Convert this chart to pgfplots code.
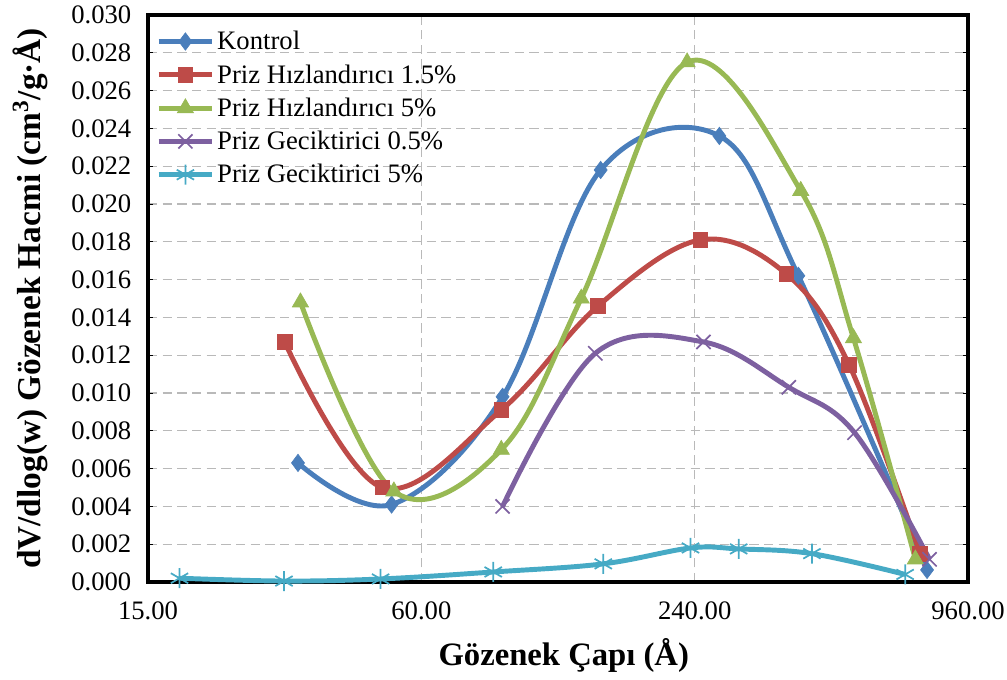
\documentclass[border=0pt]{standalone}
\usepackage{pgfplots}
\pgfplotsset{compat=1.18}
\usepackage{fontspec}
\setmainfont{Liberation Serif}
\definecolor{cBlue}{HTML}{4A7EBB}
\definecolor{cRed}{HTML}{BE4B48}
\definecolor{cGreen}{HTML}{98B954}
\definecolor{cPurple}{HTML}{7D60A0}
\definecolor{cCyan}{HTML}{46AAC5}
\begin{document}
\begin{tikzpicture}
\begin{axis}[
  name=ax,
  scale only axis,
  width=615pt, height=425.25pt,
  xmode=log,
  xmin=15, xmax=960,
  ymin=0, ymax=0.030,
  xtick={15,60,240,960},
  xticklabels={15.00,60.00,240.00,960.00},
  ytick={0,0.002,...,0.0305},
  yticklabel style={xshift=-9pt, /pgf/number format/.cd,fixed,fixed zerofill,precision=3,assume math mode=true},
  scaled y ticks=false,
  tick label style={font=\fontsize{20}{22}\selectfont},
  xticklabel style={yshift=-11pt},
  xtick style={draw=none},
  ytick style={black, line width=0.6pt},
  ytick pos=both,
  tick align=inside,
  major tick length=4pt,
  minor x tick num=0,
  log ticks with fixed point,
  grid=major,
  major grid style={gray!55, line width=1pt, dash pattern=on 7pt off 4pt},
  axis line style={line width=2.5pt},
  clip=false,
  xlabel={Gözenek Çapı (Å)},
  ylabel={dV/dlog(w) Gözenek Hacmi (cm\textsuperscript{3}/g·Å)},
  xlabel style={font=\fontsize{24.5}{28}\selectfont\bfseries, at={(axis description cs:0.507,-0.129)}, anchor=center},
  ylabel style={font=\fontsize{25}{28}\selectfont\bfseries, at={(axis description cs:-0.144,0.5)}, anchor=center, rotate=0},
  legend style={at={(axis description cs:0.0,1.0)}, anchor=north west, draw=none, fill=none,
    font=\fontsize{20}{22}\selectfont, row sep=5.6pt, xshift=3pt, yshift=-8pt},
  legend cell align=left,
  legend image code/.code={\draw[mark repeat=2,mark phase=2,#1] plot coordinates {(0pt,0pt) (20pt,0pt) (40pt,0pt)};},
  every axis plot/.append style={line width=3.7pt, smooth, tension=0.6},
]
\addplot[color=cBlue, mark=diamond*, mark size=6.5pt, mark options={solid, line width=0.5pt, fill=cBlue}] coordinates {
(32.1,0.0063) (51.6,0.0041) (90.6,0.0098) (149,0.0218) (272,0.0236) (406,0.0162) (780,0.00064)};
\addlegendentry{Kontrol}
\addplot[color=cRed, mark=square*, mark size=5.5pt, mark options={solid, line width=0.5pt, fill=cRed}] coordinates {
(30.0,0.0127) (49.2,0.0050) (90,0.0091) (147,0.0146) (247,0.0181) (382,0.0163) (525,0.0115) (753,0.0015)};
\addlegendentry{Priz Hızlandırıcı 1.5\%}
\addplot[color=cGreen, mark=triangle*, mark size=7pt, mark options={solid, line width=0.5pt, fill=cGreen}] coordinates {
(32.5,0.0148) (52.2,0.0048) (90,0.0070) (135,0.0150) (231,0.0275) (411,0.0207) (537,0.0129) (735,0.0012)};
\addlegendentry{Priz Hızlandırıcı 5\%}
\addplot[color=cPurple, mark=x, mark size=7.5pt, mark options={solid, line width=1.3pt}] coordinates {
(90.6,0.0040) (145,0.0121) (251,0.0127) (387,0.0103) (540,0.0079) (790,0.0012)};
\addlegendentry{Priz Geciktirici 0.5\%}
\addplot[color=cCyan, mark=asterisk, mark size=7.5pt, mark options={solid, line width=1.3pt}] coordinates {
(17.6,0.0002) (29.9,0.00005) (48.8,0.00016) (86.4,0.00053) (151,0.00096) (235,0.0018) (300,0.00175) (435,0.0015) (698,0.00040)};
\addlegendentry{Priz Geciktirici 5\%}
\end{axis}
\pgfresetboundingbox
\path[use as bounding box] ([shift={(-111pt,-73.5pt)}]ax.south west) rectangle ([shift={(29.25pt,11.25pt)}]ax.north east);
\end{tikzpicture}
\end{document}
